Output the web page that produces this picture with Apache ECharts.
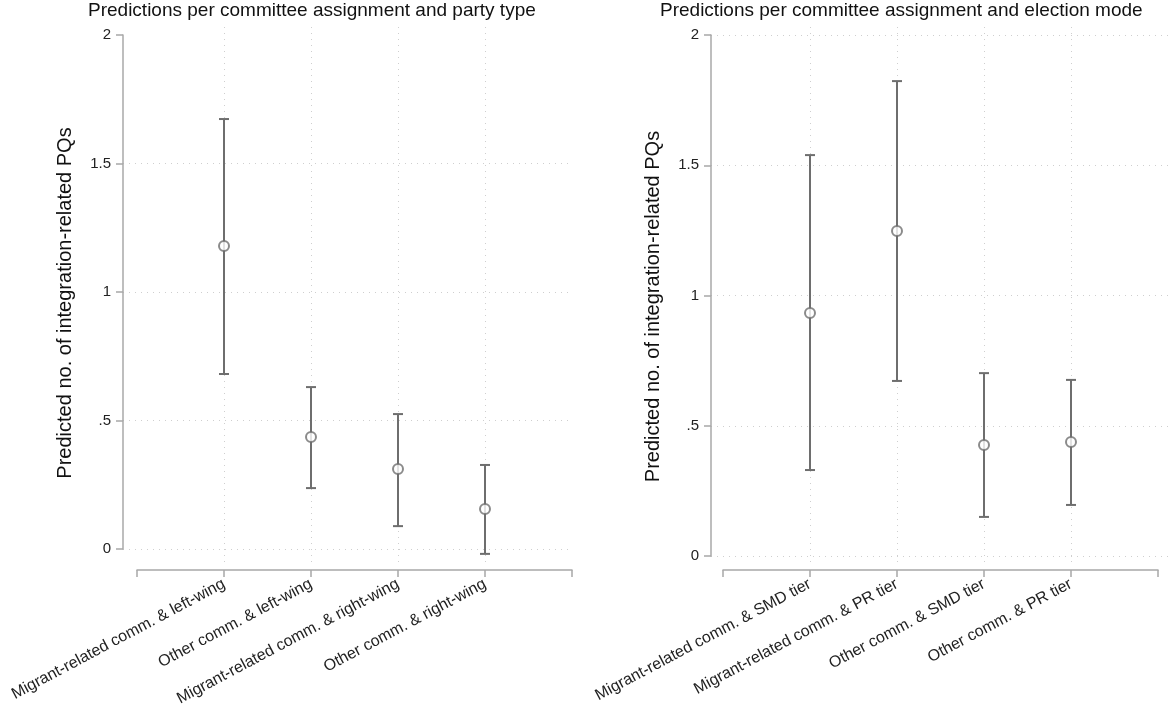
<!DOCTYPE html>
<html>
<head>
<meta charset="utf-8">
<script src="https://cdn.jsdelivr.net/npm/echarts@6/dist/echarts.min.js"></script>
<style>
  html, body { margin: 0; padding: 0; background: #fff; }
  #chart { width: 1173px; height: 712px; }
</style>
</head>
<body>
<div id="chart"></div>
<script>
// data
var leftCats = ['Migrant-related comm. & left-wing', 'Other comm. & left-wing',
                'Migrant-related comm. & right-wing', 'Other comm. & right-wing'];
var leftEst = [1.179, 0.436, 0.311, 0.156];
var leftLo  = [0.681, 0.237, 0.089, -0.019];
var leftHi  = [1.673, 0.630, 0.525, 0.327];

var rightCats = ['Migrant-related comm. & SMD tier', 'Migrant-related comm. & PR tier',
                 'Other comm. & SMD tier', 'Other comm. & PR tier'];
var rightEst = [0.933, 1.248, 0.426, 0.438];
var rightLo  = [0.330, 0.672, 0.150, 0.196];
var rightHi  = [1.539, 1.823, 0.702, 0.676];

var yTicks = ['0', '.5', '1', '1.5', '2'];

var chart = echarts.init(document.getElementById('chart'));

var barColor = '#6e6e6e';
var axisColor = '#a8a8a8';
var gridColor = '#cfcfcf';
var font = 'Arial, "Liberation Sans", sans-serif';

// layout per panel: y axis x, x axis start/end, y of 0 and 2
var panels = [
  { title: 'Predictions per committee assignment and party type', titleLeft: 88,
    yAxisX: 123, xStart: 137, xEnd: 572, gridRight: 572, y0: 549, y2: 35,
    cats: leftCats, est: leftEst, lo: leftLo, hi: leftHi, topLine: false },
  { title: 'Predictions per committee assignment and election mode', titleLeft: 660,
    yAxisX: 711, xStart: 723, xEnd: 1158, gridRight: 1168, y0: 556, y2: 35,
    cats: rightCats, est: rightEst, lo: rightLo, hi: rightHi, topLine: true }
];

var grids = [], xAxes = [], yAxes = [], series = [], titles = [];

panels.forEach(function (p, k) {
  var unit = (p.xEnd - p.xStart) / 5;
  var ga = grids.length;
  // grid A: value grid with the y axis
  grids.push({ left: p.yAxisX, top: p.y2, width: p.gridRight - p.yAxisX, height: p.y0 - p.y2 });
  xAxes.push({
    gridIndex: ga, type: 'value', show: false,
    min: -(p.xStart - p.yAxisX) / unit, max: (p.gridRight - p.xStart) / unit
  });
  yAxes.push({
    gridIndex: ga, type: 'value', min: 0, max: 2, interval: 0.5,
    name: 'Predicted no. of integration-related PQs',
    nameLocation: 'middle', nameGap: 48,
    nameTextStyle: { fontSize: 20, color: '#111', fontFamily: font, padding: [0, 22, 0, 0] },
    axisLine: { show: true, onZero: false, lineStyle: { color: axisColor, width: 1.5 } },
    axisTick: { show: true, length: 7, lineStyle: { color: axisColor, width: 1.5 } },
    axisLabel: { fontSize: 15, color: '#222', fontFamily: font, margin: 12,
      formatter: function (v) { return yTicks[Math.round(v * 2)]; } },
    splitLine: { show: true, showMaxLine: p.topLine,
      lineStyle: { color: gridColor, type: [1, 5], width: 1 } }
  });
  // grid B: category positions, x axis and vertical grid lines
  var gb = grids.length;
  grids.push({ left: p.xStart, top: 27, width: p.xEnd - p.xStart, height: 537 });
  xAxes.push({
    gridIndex: gb, type: 'value', min: 0, max: 5, interval: 1, offset: 6,
    axisLine: { show: true, onZero: false, lineStyle: { color: axisColor, width: 1.5 } },
    axisTick: { show: true, length: 7, lineStyle: { color: axisColor, width: 1.5 } },
    axisLabel: { rotate: 28, fontSize: 16, color: '#222', fontFamily: font, margin: 13,
      showMinLabel: true, showMaxLabel: true,
      formatter: (function (cats) {
        return function (v) { return (v >= 1 && v <= 4) ? cats[v - 1] : ''; };
      })(p.cats) },
    splitLine: { show: true, showMinLine: false, showMaxLine: false,
      lineStyle: { color: gridColor, type: [1, 5], width: 1 } }
  });
  yAxes.push({ gridIndex: gb, type: 'value', show: false, min: 0, max: 1, splitLine: { show: false } });

  var ci = p.cats.map(function (c, i) { return [i + 1, p.lo[i], p.hi[i]]; });
  series.push({
    type: 'custom', xAxisIndex: ga, yAxisIndex: ga, data: ci, z: 3,
    renderItem: function (params, api) {
      var x = api.value(0);
      var a = api.coord([x, api.value(1)]);
      var b = api.coord([x, api.value(2)]);
      var st = { stroke: barColor, lineWidth: 2 };
      return { type: 'group', children: [
        { type: 'line', shape: { x1: a[0], y1: a[1], x2: b[0], y2: b[1] }, style: st },
        { type: 'line', shape: { x1: a[0] - 5, y1: a[1], x2: a[0] + 5, y2: a[1] }, style: st },
        { type: 'line', shape: { x1: b[0] - 5, y1: b[1], x2: b[0] + 5, y2: b[1] }, style: st }
      ] };
    }
  });
  series.push({
    type: 'scatter', xAxisIndex: ga, yAxisIndex: ga, z: 4,
    data: p.est.map(function (v, i) { return [i + 1, v]; }),
    symbol: 'circle', symbolSize: 10,
    itemStyle: { color: '#fff', borderColor: barColor, borderWidth: 2 }
  });
  titles.push({ text: p.title, left: p.titleLeft, top: 1, padding: 0,
    textStyle: { fontSize: 19, fontWeight: 'normal', color: '#111', fontFamily: font } });
});

chart.setOption({
  backgroundColor: '#fff',
  animation: false,
  title: titles,
  grid: grids,
  xAxis: xAxes,
  yAxis: yAxes,
  series: series
});
</script>
</body>
</html>
